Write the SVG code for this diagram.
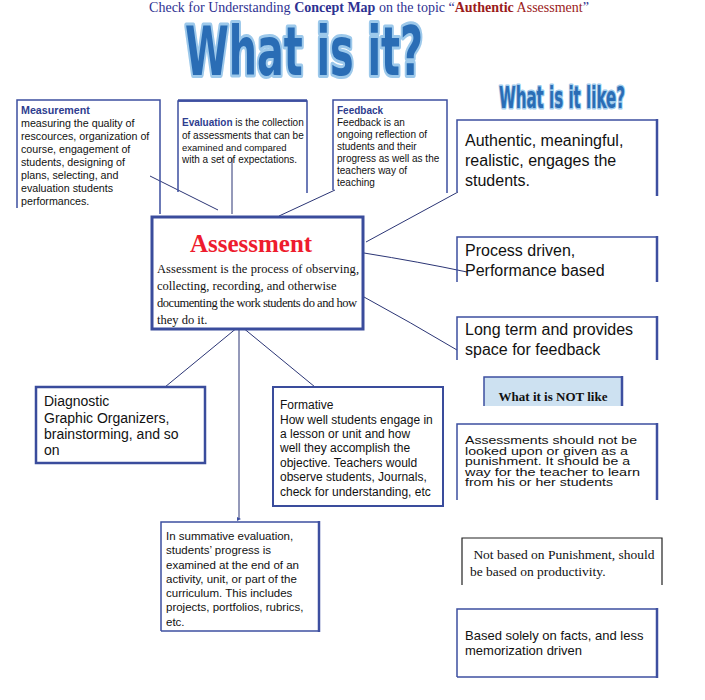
<svg xmlns="http://www.w3.org/2000/svg" width="705" height="700" viewBox="0 0 705 700">
<style>
.ar{font-family:"Liberation Sans",Arial,sans-serif;fill:#111}
.tm{font-family:"Liberation Serif","Times New Roman",serif;fill:#111}
.bl{fill:#2e3d8f;font-weight:bold}
.fr{fill:none;stroke:#3d4fa0;stroke-width:1.5}
.frr{fill:none;stroke:#3d4fa0;stroke-width:2.5}
.cn{fill:none;stroke:#2b3575;stroke-width:1}
.wa{font-family:"DejaVu Sans Condensed","DejaVu Sans",sans-serif;font-weight:bold;fill:#2a6db5;stroke:#9dc9eb;paint-order:stroke;stroke-linejoin:round}
</style>
<defs>
<marker id="dot" viewBox="0 0 6 6" refX="3" refY="3" markerWidth="4" markerHeight="4"><path d="M0,0 L6,3 L0,6 z" fill="#3d4fa0"/></marker>
</defs>
<rect width="705" height="700" fill="#fff"/>
<g id="title">
<text x="369" y="12" text-anchor="middle" font-size="14" class="tm" style="fill:#2e3192">Check for Understanding <tspan font-weight="bold">Concept Map</tspan> on the topic “<tspan font-weight="bold" fill="#9b1b1b">Authentic</tspan><tspan fill="#9b1b1b"> Assessment</tspan>”</text>
<text x="185" y="75" font-size="68" class="wa" stroke-width="6" textLength="238" lengthAdjust="spacingAndGlyphs">What is it?</text>
<text x="499" y="108" font-size="30" class="wa" stroke-width="3" textLength="126" lengthAdjust="spacingAndGlyphs">What is it  like?</text>
</g>
<g id="connectors">
<line class="cn" x1="150" y1="176" x2="218" y2="210"/>
<line class="cn" x1="232" y1="158" x2="232" y2="214" stroke-width="1.5"/>
<line class="cn" x1="335" y1="190" x2="279" y2="216"/>
<line class="cn" x1="458" y1="192" x2="366" y2="242"/>
<path class="cn" d="M364,253 Q420,262 467,272"/>
<path class="cn" d="M364,297 Q410,322 457,350"/>
<line class="cn" x1="238" y1="327" x2="165" y2="387" stroke-width="1.5"/>
<line class="cn" x1="242" y1="327" x2="315" y2="387" stroke-width="1.5"/>
<line class="cn" x1="239" y1="330" x2="239" y2="519" stroke="#3d4fa0" marker-end="url(#dot)"/>
</g>
<g id="measurement">
<path class="fr" d="M17,208 V100 H160 V214"/>
<text class="ar" font-size="10.7" x="21"><tspan class="bl" y="114">Measurement</tspan><tspan x="21" y="127">measuring the quality of</tspan><tspan x="21" y="140">rescources, organization of</tspan><tspan x="21" y="153">course, engagement of</tspan><tspan x="21" y="166">students,  designing of</tspan><tspan x="21" y="179">plans, selecting, and</tspan><tspan x="21" y="192">evaluation students</tspan><tspan x="21" y="205">performances.</tspan></text>
</g>
<g id="evaluation">
<path class="fr" d="M178,192 V101 H307 V193"/>
<line x1="178" y1="100.5" x2="307" y2="100.5" stroke="#3d4fa0" stroke-width="2.5"/>
<text class="ar" font-size="10" x="182"><tspan y="126"><tspan class="bl">Evaluation</tspan> is the collection</tspan><tspan x="182" y="139">of assessments that can be</tspan><tspan x="182" y="151" font-size="9.5">examined and compared</tspan><tspan x="182" y="163">with a set of expectations.</tspan></text>
</g>
<g id="feedback">
<path class="fr" d="M333,190 V100 H447 V193"/>
<text class="ar" font-size="10" x="337"><tspan class="bl" y="114">Feedback</tspan><tspan x="337" y="126">Feedback is an</tspan><tspan x="337" y="138">ongoing reflection of</tspan><tspan x="337" y="150">students and their</tspan><tspan x="337" y="162">progress as well as the</tspan><tspan x="337" y="174">teachers way of</tspan><tspan x="337" y="186">teaching</tspan></text>
</g>
<g id="assessment">
<rect x="152" y="217" width="211" height="112" fill="#fff" stroke="#3a4c9c" stroke-width="3"/>
<text class="tm" x="251" y="252" text-anchor="middle" font-size="25" font-weight="bold" style="fill:#ee1c2e">Assessment</text>
<text class="tm" font-size="12.5" x="157"><tspan y="273" textLength="202">Assessment is the process of observing,</tspan><tspan x="157" y="290">collecting, recording, and otherwise</tspan><tspan x="157" y="307" textLength="200">documenting the work students do and how</tspan><tspan x="157" y="324">they do it.</tspan></text>
</g>
<g id="authentic">
<path class="fr" d="M457,192 V120 H657"/>
<line class="frr" x1="657" y1="119" x2="657" y2="196"/>
<text class="ar" font-size="16" x="465"><tspan y="146">Authentic, meaningful,</tspan><tspan x="465" y="166">realistic, engages the</tspan><tspan x="465" y="186">students.</tspan></text>
</g>
<g id="process">
<path class="fr" d="M457,282 V237 H657"/>
<line class="frr" x1="657" y1="236" x2="657" y2="282"/>
<text class="ar" font-size="16" x="465"><tspan y="256">Process driven,</tspan><tspan x="465" y="276">Performance based</tspan></text>
</g>
<g id="longterm">
<path class="fr" d="M457,360 V317 H657"/>
<line class="frr" x1="657" y1="316" x2="657" y2="360"/>
<text class="ar" font-size="16" x="465"><tspan y="335">Long term and provides</tspan><tspan x="465" y="355">space for feedback</tspan></text>
</g>
<g id="diagnostic">
<rect x="36" y="387" width="169" height="76" fill="#fff" stroke="#3a4c9c" stroke-width="2.5"/>
<text class="ar" font-size="14" x="44"><tspan y="406">Diagnostic</tspan><tspan x="44" y="423">Graphic Organizers,</tspan><tspan x="44" y="439">brainstorming, and so</tspan><tspan x="44" y="455">on</tspan></text>
</g>
<g id="formative">
<rect x="273" y="387" width="170" height="119" fill="#fff" stroke="#3a4c9c" stroke-width="2"/>
<text class="ar" font-size="12" x="280"><tspan y="409">Formative</tspan><tspan x="280" y="424">How well students engage in</tspan><tspan x="280" y="438">a lesson or unit and how</tspan><tspan x="280" y="452">well they accomplish the</tspan><tspan x="280" y="467">objective. Teachers would</tspan><tspan x="280" y="481">observe students, Journals,</tspan><tspan x="280" y="496">check for understanding, etc</tspan></text>
</g>
<g id="summative">
<path class="fr" d="M161,631 V522 H319"/>
<line class="fr" x1="161" y1="631" x2="320" y2="631"/>
<line class="frr" x1="319" y1="521" x2="319" y2="632"/>
<text class="ar" font-size="11.5" x="166"><tspan y="540">In summative evaluation,</tspan><tspan x="166" y="554">students’ progress is</tspan><tspan x="166" y="569">examined at the end of an</tspan><tspan x="166" y="583">activity, unit, or part of the</tspan><tspan x="166" y="597">curriculum. This includes</tspan><tspan x="166" y="611">projects, portfolios, rubrics,</tspan><tspan x="166" y="626">etc.</tspan></text>
</g>
<g id="notlike">
<path d="M484,406 V377 H622 V406" fill="#cde1f1" stroke="none"/>
<path class="fr" d="M484,406 V377 H622"/>
<line class="frr" x1="622" y1="376" x2="622" y2="406"/>
<text class="tm" x="553" y="401" text-anchor="middle" font-size="13" font-weight="bold">What it is NOT like</text>
</g>
<g id="punishment">
<path class="fr" d="M457,500 V424 H657"/>
<line class="frr" x1="657" y1="423" x2="657" y2="500"/>
<text class="ar" font-size="11.5" x="465"><tspan y="444" textLength="172" lengthAdjust="spacingAndGlyphs">Assessments should not be</tspan><tspan x="465" y="455" textLength="163" lengthAdjust="spacingAndGlyphs">looked upon or given as a</tspan><tspan x="465" y="465" textLength="165" lengthAdjust="spacingAndGlyphs">punishment. It should be a</tspan><tspan x="465" y="476" textLength="175" lengthAdjust="spacingAndGlyphs">way for the teacher to learn</tspan><tspan x="465" y="486" textLength="148" lengthAdjust="spacingAndGlyphs">from his or her students</tspan></text>
</g>
<g id="productivity">
<path d="M462,585 V538 H662 V585" fill="none" stroke="#222" stroke-width="1.2"/>
<text class="tm" font-size="13.5" x="470"><tspan y="559" xml:space="preserve"> Not based on Punishment, should</tspan><tspan x="470" y="576">be based on productivity.</tspan></text>
</g>
<g id="facts">
<path class="fr" d="M457,677 V609 H657"/>
<line class="fr" x1="457" y1="677" x2="658" y2="677" stroke-width="1"/>
<line class="frr" x1="657" y1="608" x2="657" y2="678"/>
<text class="ar" font-size="13" x="465"><tspan y="640">Based solely on facts, and less</tspan><tspan x="465" y="655">memorization driven</tspan></text>
</g>
</svg>
